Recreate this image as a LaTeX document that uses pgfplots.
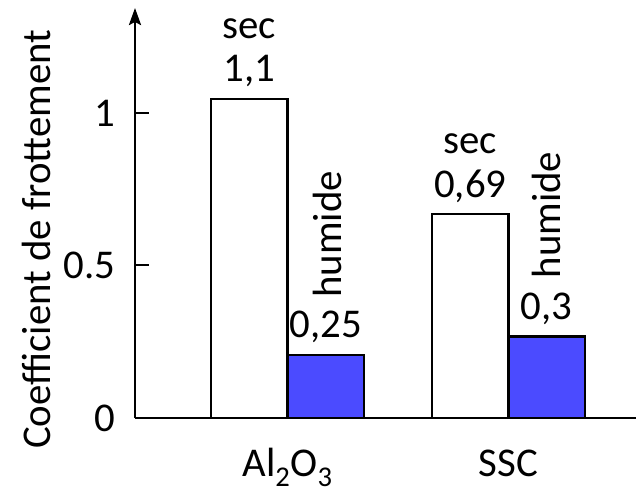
\documentclass[border=0pt]{standalone}
\usepackage{fontspec}
\setmainfont{Carlito}
\usepackage{pgfplots}
\pgfplotsset{compat=1.18}
\usetikzlibrary{arrows.meta}
\definecolor{barblue}{RGB}{75,75,255}
\begin{document}
\fontsize{41}{49}\selectfont
\begin{tikzpicture}
\begin{axis}[
  name=ax,
  scale only axis,
  width=501bp, height=410bp,
  xmin=-0.690, xmax=1.577,
  ymin=0, ymax=1.344,
  axis x line=bottom,
  axis y line=left,
  x axis line style={-, line width=2.6bp},
  y axis line style={-{Stealth[length=17bp,width=12bp,inset=3bp]}, line width=2.6bp},
  xtick={0,1},
  xticklabels={Al\textsubscript{2}O\textsubscript{3}, SSC},
  xtick style={draw=none},
  xticklabel style={anchor=base, yshift=-44bp},
  ytick={0,0.5,1},
  tick align=inside,
  major tick length=14bp,
  ytick style={line width=2bp, black},
  yticklabel style={xshift=-6bp},
  /pgf/number format/assume math mode=true,
  ylabel={Coefficient de frottement},
  ylabel style={at={(axis description cs:-0.196,0.436)}, anchor=center, rotate=0},
  ybar,
  bar width=76.5bp,
  point meta=explicit symbolic,
  nodes near coords,
  every node near coord/.append style={anchor=center, yshift=28bp},
  clip=false,
]
\addplot[bar shift=-38.25bp, fill=white, draw=black, line width=2.2bp]
  table[meta=lab] {
x y lab
0 1.046 1,1
1 0.669 0,69
};
\addplot[bar shift=38.25bp, fill=barblue, draw=black, line width=2.2bp]
  table[meta=lab] {
x y lab
0 0.207 0,25
1 0.267 0,3
};
\node[anchor=center, yshift=70bp] at (axis cs:-0.173,1.046) {sec};
\node[anchor=center, yshift=70bp] at (axis cs:0.827,0.669) {sec};
\node[rotate=90, anchor=west, inner sep=0pt] at ([yshift=57bp]axis cs:0.18,0.207) {humide};
\node[rotate=90, anchor=west, inner sep=0pt] at ([yshift=58bp]axis cs:1.17,0.267) {humide};
\end{axis}
\pgfresetboundingbox
\useasboundingbox ([xshift=-135bp,yshift=-75bp]ax.south west) rectangle ([yshift=8bp]ax.north east);
\end{tikzpicture}
\end{document}
